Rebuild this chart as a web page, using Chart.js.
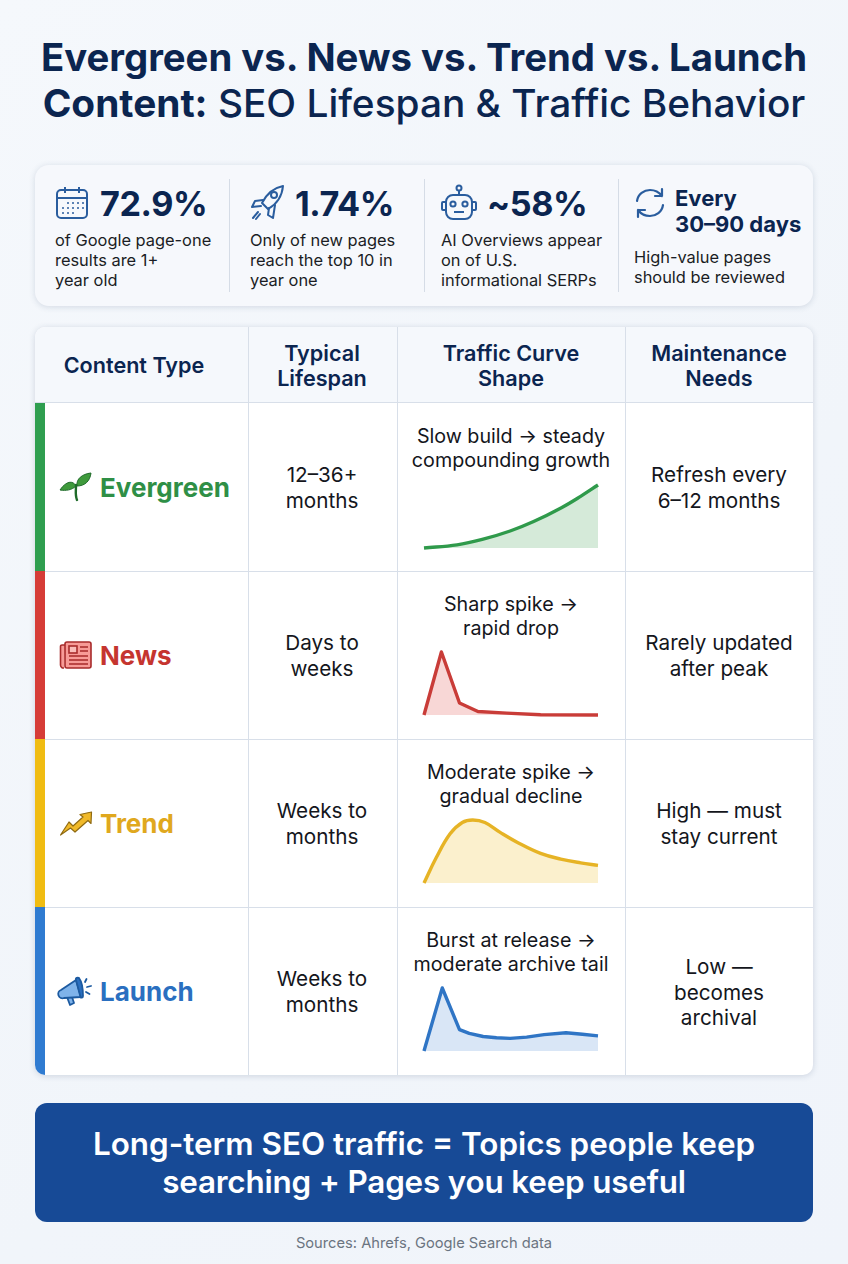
<!DOCTYPE html>
<html>
<head>
<meta charset="utf-8">
<script src="https://cdn.jsdelivr.net/npm/chart.js@4"></script>
<style>
html,body{margin:0;padding:0}
body{width:848px;height:1264px;position:relative;overflow:hidden;font-family:Inter,sans-serif;color:#14161c;background:linear-gradient(135deg,#f5f8fc 0%,#f1f5fa 60%,#f0f4fa 100%)}
.a{position:absolute}
.c{position:absolute;text-align:center;white-space:nowrap;transform:translateX(-50%)}
h1{position:absolute;left:0;width:848px;margin:0;text-align:center;font-size:38.8px;line-height:46px;font-weight:500;color:#0b2550;top:34px}
h1 b{font-weight:700}
h1 .l1{font-size:38.3px}
#kpi{left:35px;top:165px;width:778px;height:141px;background:#f6f8fc;border-radius:14px;box-shadow:0 1px 6px rgba(40,60,100,.16)}
.div{position:absolute;top:14px;width:1px;height:113px;background:#d5dce6}
.num{position:absolute;font-weight:700;color:#0b2550;font-size:34.2px;line-height:40px;white-space:nowrap;letter-spacing:-.4px}
.txt{position:absolute;font-size:16.4px;line-height:20px;white-space:nowrap;color:#1a1d24}
#tbl{left:35px;top:327px;width:778px;height:748px;background:#fff;border-radius:10px;box-shadow:0 1px 6px rgba(40,60,100,.18);overflow:hidden}
#head{left:0;top:0;width:778px;height:76px;background:#f5f8fc;border-bottom:1px solid #d8dfe9;box-sizing:border-box}
.v{position:absolute;top:0;height:748px;width:1px;background:#d8dfe9}
.h{position:absolute;left:0;width:778px;height:1px;background:#d8dfe9}
.bar{position:absolute;left:0;width:10px}
.hd{font-weight:600;font-size:21.6px;line-height:25px;color:#0b2550}
.cell{font-size:20.7px;line-height:25.5px}
.cap{font-size:19.7px;line-height:23.5px}
.lab{position:absolute;left:100px;font-weight:700;font-size:26px;line-height:32px}
canvas{position:absolute}
svg{position:absolute;overflow:visible}
#banner{left:35px;top:1103px;width:778px;height:119px;background:#174a96;border-radius:12px}
#banner div{position:absolute;left:0;width:778px;text-align:center;color:#fff;font-size:31.4px;line-height:38px;font-weight:600}
#src{left:424px;top:1234px;font-size:14.7px;line-height:18px;color:#6b7480}
</style>
</head>
<body>

<h1><b class="l1">Evergreen vs. News vs. Trend vs. Launch</b><br><b>Content:</b> SEO Lifespan &amp; Traffic Behavior</h1>

<div id="kpi" class="a">
  <div class="div" style="left:194px"></div>
  <div class="div" style="left:389px"></div>
  <div class="div" style="left:583px"></div>
  <div class="num" style="left:65px;top:19px">72.9%</div>
  <div class="txt" style="left:20px;top:65px">of Google page-one<br>results are 1+<br>year old</div>
  <div class="num" style="left:260px;top:19px">1.74%</div>
  <div class="txt" style="left:215px;top:65px">Only of new pages<br>reach the top 10 in<br>year one</div>
  <div class="num" style="left:452px;top:19px">~58%</div>
  <div class="txt" style="left:406px;top:65px">AI Overviews appear<br>on of U.S.<br>informational SERPs</div>
  <div class="num" style="left:640px;top:20px;font-size:22px;line-height:26px;font-weight:700;letter-spacing:0">Every<br>30–90 days</div>
  <div class="txt" style="left:599px;top:82px">High-value pages<br>should be reviewed</div>
</div>

<!-- kpi icons -->
<svg style="left:56px;top:186px" width="34" height="34" viewBox="0 0 34 34" fill="none" stroke="#2a5d9e" stroke-width="2">
  <rect x="1" y="4" width="30" height="28" rx="4"/><path d="M1 12H31M9 1V7M23 1V7"/>
  <g fill="#2a5d9e" stroke="none"><circle cx="12" cy="17" r="1"/><circle cx="17" cy="17" r="1"/><circle cx="22" cy="17" r="1"/><circle cx="27" cy="17" r="1"/><circle cx="7" cy="22" r="1"/><circle cx="12" cy="22" r="1"/><circle cx="17" cy="22" r="1"/><circle cx="22" cy="22" r="1"/><circle cx="27" cy="22" r="1"/><circle cx="7" cy="27" r="1"/><circle cx="12" cy="27" r="1"/><circle cx="17" cy="27" r="1"/></g>
</svg>
<svg style="left:251px;top:185px" width="34" height="35" viewBox="0 0 34 35" fill="none" stroke="#2a5d9e" stroke-width="2" stroke-linejoin="round" stroke-linecap="round">
  <path d="M32 1C22 3 16 8 11 18L17 24C26 19 31 12 32 1Z"/><circle cx="23" cy="10" r="3"/>
  <path d="M12 15L4 16L1 22L10 21M18 23L17 30L22 33L24 20M7 27L2 33M9 29L5 34"/>
</svg>
<svg style="left:441px;top:185px" width="36" height="35" viewBox="0 0 36 35" fill="none" stroke="#2a5d9e" stroke-width="2">
  <circle cx="18" cy="3" r="2.5"/><path d="M18 6V10"/><rect x="5" y="10" width="26" height="24" rx="7"/>
  <path d="M5 17H2a1 1 0 0 0-1 1v6a1 1 0 0 0 1 1h3M31 17h3a1 1 0 0 1 1 1v6a1 1 0 0 1-1 1h-3M13 27H23"/>
  <circle cx="12" cy="19" r="2.6"/><circle cx="24" cy="19" r="2.6"/>
</svg>
<svg style="left:636px;top:188px" width="28" height="30" viewBox="0 0 28 30" fill="none" stroke="#2a5d9e" stroke-width="2.2" stroke-linecap="round" stroke-linejoin="round">
  <path d="M1 13C2 6 8 2 14 2C19 2 23 4 26 8M26 1V8H19"/><path d="M27 17C26 24 20 28 14 28C9 28 5 26 2 22M2 29V22H9"/>
</svg>

<div id="tbl" class="a">
  <div id="head" class="a"></div>
  <div class="h" style="top:244px"></div>
  <div class="h" style="top:412px"></div>
  <div class="h" style="top:580px"></div>
  <div class="v" style="left:213px"></div>
  <div class="v" style="left:362px"></div>
  <div class="v" style="left:590px"></div>
  <div class="bar" style="top:76px;height:168px;background:#2f9e4f"></div>
  <div class="bar" style="top:244px;height:168px;background:#d63c37"></div>
  <div class="bar" style="top:412px;height:168px;background:#f0bc12"></div>
  <div class="bar" style="top:580px;height:168px;background:#2f7bd1"></div>
</div>

<div class="c hd" style="left:134px;top:353px">Content Type</div>
<div class="c hd" style="left:322px;top:341px">Typical<br>Lifespan</div>
<div class="c hd" style="left:511px;top:341px">Traffic Curve<br>Shape</div>
<div class="c hd" style="left:719px;top:341px">Maintenance<br>Needs</div>

<div class="lab" style="top:472px;color:#2f8f46">Evergreen</div>
<div class="lab" style="top:640px;color:#c5352f">News</div>
<div class="lab" style="top:808px;color:#e0a81e">Trend</div>
<div class="lab" style="top:976px;color:#2a6fc0">Launch</div>

<div class="c cell" style="left:322px;top:462px">12–36+<br>months</div>
<div class="c cell" style="left:322px;top:630px">Days to<br>weeks</div>
<div class="c cell" style="left:322px;top:798px">Weeks to<br>months</div>
<div class="c cell" style="left:322px;top:966px">Weeks to<br>months</div>

<div class="c cap" style="left:511px;top:425px">Slow build → steady<br>compounding growth</div>
<div class="c cap" style="left:511px;top:593px">Sharp spike →<br>rapid drop</div>
<div class="c cap" style="left:511px;top:761px">Moderate spike →<br>gradual decline</div>
<div class="c cap" style="left:511px;top:929px">Burst at release →<br>moderate archive tail</div>

<div class="c cell" style="left:719px;top:462px">Refresh every<br>6–12 months</div>
<div class="c cell" style="left:719px;top:630px">Rarely updated<br>after peak</div>
<div class="c cell" style="left:719px;top:798px">High — must<br>stay current</div>
<div class="c cell" style="left:719px;top:954px">Low —<br>becomes<br>archival</div>

<!-- row icons -->
<svg style="left:59px;top:472px" width="33" height="30" viewBox="0 0 33 30">
  <path d="M17 14C14 8 7 9 1 18C7 19 13 18 17 14Z" fill="#3f9a3c" stroke="#1f6b2a" stroke-width="1"/>
  <path d="M18 14C17 7 23 2 32 1C31 9 26 14 18 14Z" fill="#3f9a3c" stroke="#1f6b2a" stroke-width="1"/>
  <path d="M17 13C17 19 16 23 18 28" fill="none" stroke="#1f6b2a" stroke-width="2.4" stroke-linecap="round"/>
</svg>
<svg style="left:60px;top:641px" width="32" height="28" viewBox="0 0 32 28" stroke="#a82b2b" stroke-width="1.6">
  <path d="M5 4H2a1.5 1.5 0 0 0-1.5 1.500V24A3 3 0 0 0 4 27" fill="#f79b97"/>
  <rect x="5" y="1" width="26" height="26" rx="2" fill="#f79b97"/>
  <rect x="9" y="5" width="8" height="7" fill="#f9bdb9"/>
  <path d="M20 6H28M20 10H28M9 15H28M9 19H28M9 23H28" fill="none"/>
</svg>
<svg style="left:60px;top:811px" width="32" height="25" viewBox="0 0 32 25">
  <path d="M0.500 24L9 11L13 15L23 6L20 3.500L31.500 1L31 12.500L28 9.500L15 21L10.500 17Z" fill="#f0b92a" stroke="#8f6a12" stroke-width="1.200" stroke-linejoin="round"/>
</svg>
<svg style="left:59px;top:977px" width="33" height="30" viewBox="0 0 33 30" stroke="#1c5aa0" stroke-width="1.800" stroke-linejoin="round" stroke-linecap="round">
  <path d="M8 20L11 28L15 26L13 20" fill="#7fb3ea"/>
  <path d="M2 13L17 3L22 20L5 21A4 4 0 0 1 2 13Z" fill="#7fb3ea"/>
  <path d="M17 3C16 1 19 0 20 1C23 5 24 14 24 19C24 21 22 21 21.500 20Z" fill="#2a6fc0"/>
  <path d="M26 5L27.500 2M28 10L32 9M27 15L30.500 17" fill="none"/>
</svg>

<canvas id="chart-evergreen" style="left:419px;top:480px" width="184" height="73"></canvas>
<canvas id="chart-news" style="left:419px;top:647px" width="184" height="73"></canvas>
<canvas id="chart-trend" style="left:419px;top:815px" width="184" height="73"></canvas>
<canvas id="chart-launch" style="left:419px;top:983px" width="184" height="73"></canvas>

<div id="banner" class="a">
  <div style="top:22px">Long-term SEO traffic = Topics people keep</div>
  <div style="top:60px;letter-spacing:-.17px">searching + Pages you keep useful</div>
</div>
<div id="src" class="c">Sources: Ahrefs, Google Search data</div>

<script>
// % of lifespan on x, % of peak traffic on y
const evergreenX = [0, 19, 34, 49.5, 63, 79, 90, 100];
const evergreenY = [0, 5, 14, 27, 42, 64, 82, 100];
const newsX = [0, 10, 20.4, 31, 47.5, 67, 100];
const newsY = [0, 100, 19, 5.5, 3, 0.5, 0];
const trendX = [0, 7, 15, 22, 28, 35, 44, 54, 67, 78.6, 90, 100];
const trendY = [0, 40, 78, 96, 100, 96, 80, 64, 47, 38, 32, 28];
const launchX = [0, 10.5, 20.4, 26, 34, 41.7, 49.5, 59, 69, 81.6, 91, 100];
const launchY = [0, 100, 34, 28, 23, 21, 20, 22, 26, 29, 26.5, 24];

function drawCurve(id, xs, ys, color, fill, smooth) {
    new Chart(document.getElementById(id).getContext("2d"), {
        type: "line",
        data: {
            datasets: [{
                data: xs.map((x, i) => ({ x: x, y: ys[i] })),
                borderColor: color,
                backgroundColor: fill,
                borderWidth: 3.4,
                borderJoinStyle: "round",
                pointRadius: 0,
                fill: "origin",
                clip: false,
                tension: smooth ? 0.4 : 0
            }]
        },
        options: {
            responsive: false,
            animation: false,
            layout: { padding: 5 },
            plugins: { legend: { display: false }, tooltip: { enabled: false } },
            scales: {
                x: { type: "linear", min: 0, max: 100, display: false },
                y: { min: 0, max: 100, display: false }
            }
        }
    });
}

drawCurve("chart-evergreen", evergreenX, evergreenY, "#2f9a4b", "#d5ead9", true);
drawCurve("chart-news", newsX, newsY, "#c93c38", "#f8d7d6", false);
drawCurve("chart-trend", trendX, trendY, "#e6b325", "#fbf0cd", true);
drawCurve("chart-launch", launchX, launchY, "#2f75c5", "#d9e6f6", false);
</script>
</body>
</html>
